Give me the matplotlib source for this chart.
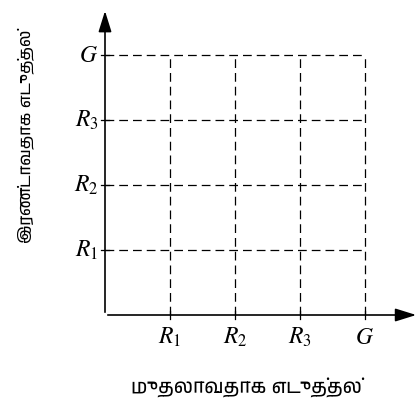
import matplotlib.pyplot as plt
from matplotlib import font_manager

# grid positions (units along each axis) and labels
positions = [1, 2, 3, 4]
x_labels = ["$R_1$", "$R_2$", "$R_3$", "$G$"]
y_labels = ["$R_1$", "$R_2$", "$R_3$", "$G$"]
x_title = "முதலாவதாக எடுத்தல்"
y_title = "இரண்டாவதாக எடுத்தல்"

plt.rcParams['mathtext.fontset'] = 'stix'

names = sorted({f.name for f in font_manager.fontManager.ttflist})
tamil = [n for n in names if 'Tamil' in n or 'Lohit' in n or 'Latha' in n]
fam = tamil + ['DejaVu Sans']

fig = plt.figure(figsize=(4.2, 4.05), dpi=100)
ax = fig.add_axes([0, 0, 1, 1])
ax.set_xlim(-105 / 65, 315 / 65)
ax.set_ylim(-90 / 65, 315 / 65)
ax.axis('off')

top = max(positions)
for p in positions:
    ax.plot([0, top], [p, p], color='black', lw=0.9, ls=(0, (7, 4)))
    ax.plot([p, p], [0, top], color='black', lw=0.9, ls=(0, (7, 4)))
    # small ticks across the axes
    ax.plot([p, p], [-0.06, 0.06], color='black', lw=0.9)
    ax.plot([-0.06, 0.06], [p, p], color='black', lw=0.9)

# axes with arrows
ax.annotate('', xy=(4.83, 0), xytext=(0, 0),
            arrowprops=dict(arrowstyle='-|>,head_length=0.8,head_width=0.25',
                            color='black', lw=1.2, mutation_scale=16))
ax.annotate('', xy=(0, 4.72), xytext=(0, 0),
            arrowprops=dict(arrowstyle='-|>,head_length=0.8,head_width=0.25',
                            color='black', lw=1.2, mutation_scale=16))

for p, lab in zip(positions, x_labels):
    ax.text(p, -0.15, lab, ha='center', va='top', fontsize=17)
for p, lab in zip(positions, y_labels):
    ax.text(-0.1, p, lab, ha='right', va='center', fontsize=17)

ax.text(2.17, -1.12, x_title, ha='center', va='center', fontsize=14, family=fam)
ax.text(-1.215, 2.75, y_title, ha='center', va='center', fontsize=12,
        rotation=90, family=fam)

fig.savefig('out.png', dpi=100)
